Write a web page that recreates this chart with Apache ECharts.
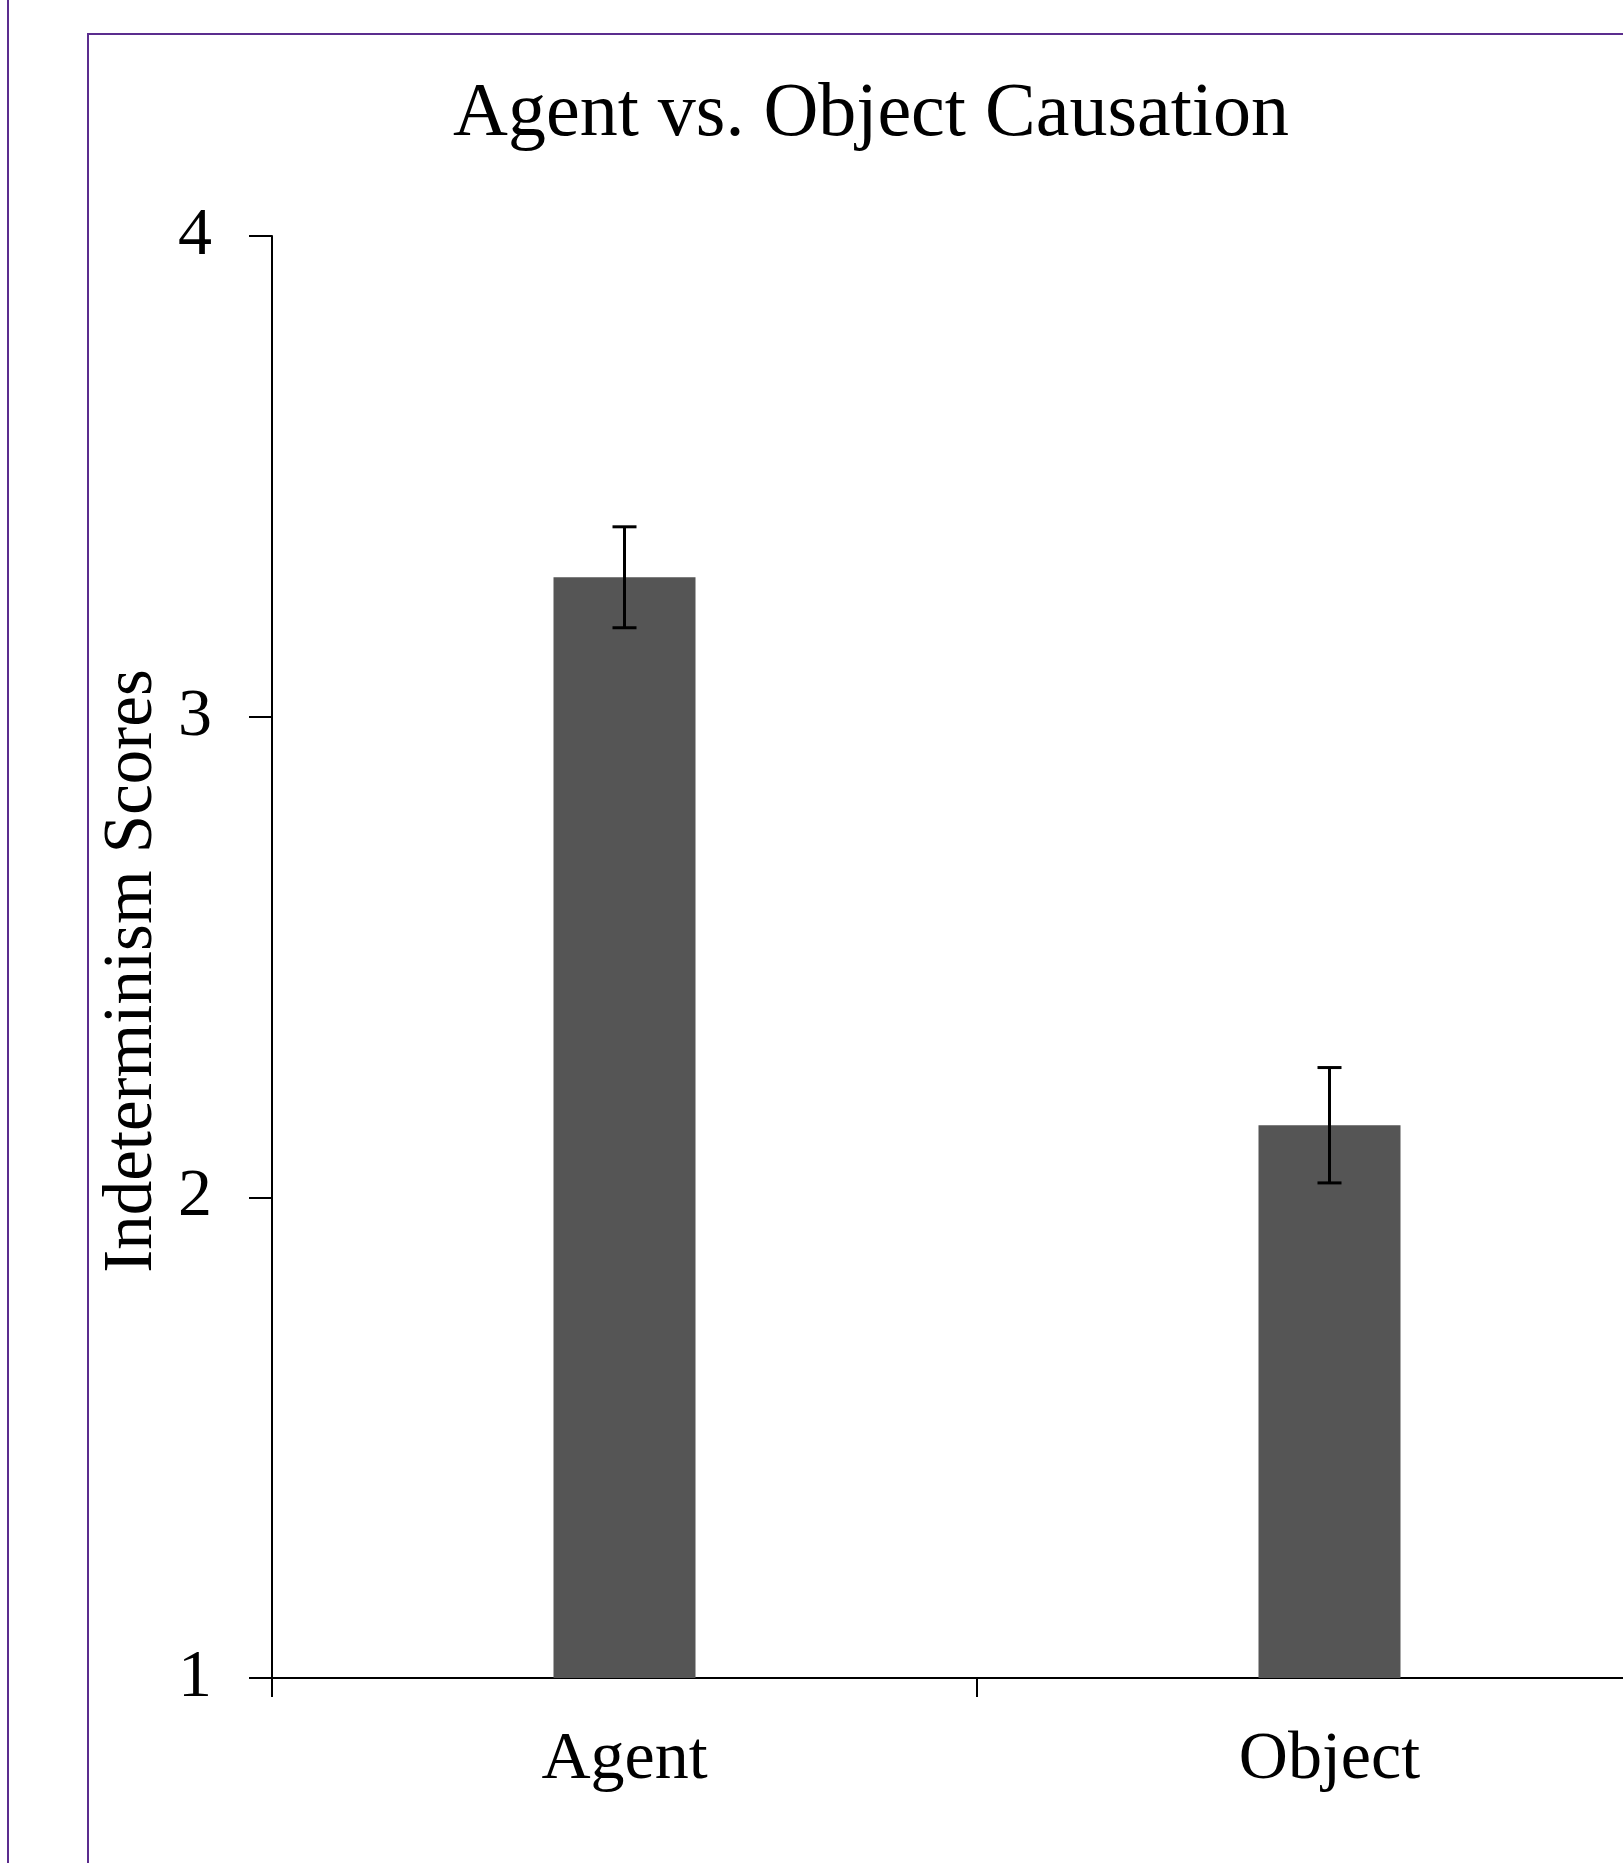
<!DOCTYPE html>
<html>
<head>
<meta charset="utf-8">
<title>Agent vs. Object Causation</title>
<script src="https://cdn.jsdelivr.net/npm/echarts@6/dist/echarts.min.js"></script>
<style>
  html, body { margin: 0; padding: 0; background: #ffffff; overflow: hidden; }
  /* the plot runs past the right edge of the page, so the canvas is wider than the window */
  #chart { width: 1700px; height: 1863px; }
</style>
</head>
<body>
<div id="chart"></div>
<script>
// Mean indeterminism scores per causation condition, with standard-error half-widths
const categories = ['Agent', 'Object'];
const meanScores = [3.29, 2.15];
const errorHalfWidths = [0.105, 0.12];
const yTicks = [1, 2, 3, 4];

const serif = '"Liberation Serif", "Times New Roman", Times, serif';
const frameColor = '#5b2d8e';

const chart = echarts.init(document.getElementById('chart'), null, { renderer: 'canvas' });

const errorData = categories.map((c, i) => [i, meanScores[i] - errorHalfWidths[i], meanScores[i] + errorHalfWidths[i]]);

chart.setOption({
  animation: false,
  backgroundColor: '#ffffff',
  title: {
    text: 'Agent vs. Object Causation',
    left: 866,
    top: 72,
    textAlign: 'center',
    textStyle: { fontFamily: serif, fontSize: 76, fontWeight: 'normal', color: '#000' }
  },
  graphic: [
    {
      type: 'line',
      shape: { x1: 8, y1: 0, x2: 8, y2: 1863 },
      style: { stroke: frameColor, lineWidth: 2 },
      silent: true
    },
    {
      type: 'rect',
      shape: { x: 88, y: 34, width: 2000, height: 2000 },
      style: { fill: 'none', stroke: frameColor, lineWidth: 2 },
      silent: true
    }
  ],
  grid: { left: 272, top: 236, width: 1410, bottom: 185, containLabel: false },
  xAxis: {
    type: 'category',
    data: categories,
    boundaryGap: true,
    axisLine: { show: true, lineStyle: { color: '#000', width: 2 } },
    axisTick: { show: true, length: 19, inside: false, alignWithLabel: false, lineStyle: { color: '#000', width: 2 } },
    axisLabel: { margin: 48, fontFamily: serif, fontSize: 68, color: '#000' },
    splitLine: { show: false }
  },
  yAxis: {
    type: 'value',
    min: yTicks[0],
    max: yTicks[yTicks.length - 1],
    interval: 1,
    name: 'Indeterminism Scores',
    nameLocation: 'middle',
    nameGap: 100,
    nameTextStyle: { fontFamily: serif, fontSize: 69, color: '#000', padding: [0, 28, 0, 0] },
    axisLine: { show: true, lineStyle: { color: '#000', width: 2 } },
    axisTick: { show: true, length: 23, inside: false, lineStyle: { color: '#000', width: 2 } },
    axisLabel: { margin: 60, fontFamily: serif, fontSize: 68, color: '#000' },
    splitLine: { show: false }
  },
  series: [
    {
      type: 'bar',
      data: meanScores,
      barWidth: 142,
      itemStyle: { color: '#555555' },
      z: 2
    },
    {
      type: 'custom',
      data: errorData,
      z: 5,
      renderItem: function (params, api) {
        const x = api.value(0);
        const lo = api.coord([x, api.value(1)]);
        const hi = api.coord([x, api.value(2)]);
        const cap = 12;
        const st = { stroke: '#000', lineWidth: 3, fill: 'none' };
        return {
          type: 'group',
          children: [
            { type: 'line', shape: { x1: hi[0], y1: hi[1], x2: lo[0], y2: lo[1] }, style: st },
            { type: 'line', shape: { x1: hi[0] - cap, y1: hi[1], x2: hi[0] + cap, y2: hi[1] }, style: st },
            { type: 'line', shape: { x1: lo[0] - cap, y1: lo[1], x2: lo[0] + cap, y2: lo[1] }, style: st }
          ]
        };
      }
    }
  ]
});
</script>
</body>
</html>
